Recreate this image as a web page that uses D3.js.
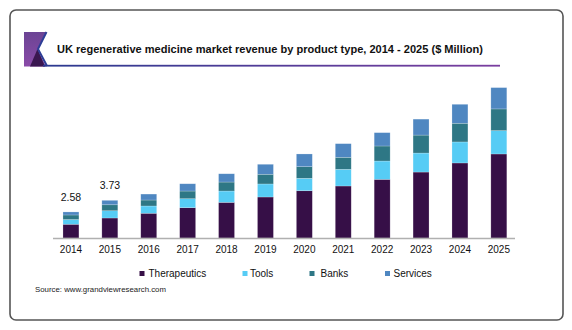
<!DOCTYPE html>
<html>
<head>
<meta charset="utf-8">
<script src="https://cdn.jsdelivr.net/npm/d3@7"></script>
<style>
  html, body { margin: 0; padding: 0; background: #fff; }
  svg { display: block; font-family: "Liberation Sans", Arial, sans-serif; }
</style>
</head>
<body>
<svg id="chart" width="572" height="330"></svg>
<script>
const years = ["2014","2015","2016","2017","2018","2019","2020","2021","2022","2023","2024","2025"];
const therapeutics = [1.36, 1.98, 2.45, 3.00, 3.53, 4.06, 4.68, 5.15, 5.81, 6.53, 7.43, 8.32];
const tools        = [0.47, 0.72, 0.72, 0.89, 1.12, 1.29, 1.23, 1.65, 1.81, 1.88, 2.08, 2.31];
const banks        = [0.45, 0.59, 0.59, 0.76, 0.89, 0.96, 1.15, 1.19, 1.49, 1.78, 1.85, 2.15];
const services     = [0.30, 0.44, 0.59, 0.72, 0.82, 0.99, 1.26, 1.35, 1.32, 1.58, 1.88, 2.11];
const seriesNames  = ["Therapeutics", "Tools", "Banks", "Services"];
const totalLabels  = ["2.58", "3.73"];
const titleText = "UK regenerative medicine market revenue by product type, 2014 - 2025 ($ Million)";
const sourceText = "Source: www.grandviewresearch.com";

const colors = ["#360f47", "#56ccf5", "#2e7785", "#4f87c1"];

const svg = d3.select("#chart");
const defs = svg.append("defs");

// outer frame
svg.append("rect").attr("x", 10).attr("y", 10).attr("width", 553).attr("height", 310)
  .attr("rx", 6).attr("fill", "#fff").attr("stroke", "#555").attr("stroke-width", 1.6);

// header icon + underline
const grad = defs.append("linearGradient").attr("id", "ul").attr("x1", "0%").attr("x2", "100%");
grad.append("stop").attr("offset", "0%").attr("stop-color", "#2b3a90");
grad.append("stop").attr("offset", "100%").attr("stop-color", "#7a3e9f");
const iconGrad = defs.append("linearGradient").attr("id", "ig").attr("x1", "0%").attr("y1", "0%").attr("x2", "0%").attr("y2", "100%");
iconGrad.append("stop").attr("offset", "0%").attr("stop-color", "#6b4494");
iconGrad.append("stop").attr("offset", "100%").attr("stop-color", "#8a4aa8");

svg.append("path").attr("d", "M24,32 L46,32 L37.5,49 L46,66.5 L24,66.5 Z").attr("fill", "url(#ig)");
svg.append("path").attr("d", "M30,66.5 L37.5,49 L45,66.5 Z").attr("fill", "#3a1650");
svg.append("path").attr("d", "M46.5,32 L38,49 L47,66").attr("fill", "none").attr("stroke", "#2d3d96").attr("stroke-width", 2);
svg.append("rect").attr("x", 43).attr("y", 64.8).attr("width", 457).attr("height", 1.8).attr("fill", "url(#ul)");

svg.append("text").attr("x", 57).attr("y", 53)
  .attr("font-size", 11.5).attr("font-weight", "bold").attr("fill", "#111")
  .attr("textLength", 426).attr("lengthAdjust", "spacingAndGlyphs")
  .text(titleText);

// scales
const x = d3.scaleBand().domain(years).range([51.5, 518.3]).paddingInner(0.59).paddingOuter(0.295);
const y = d3.scaleLinear().domain([0, 10]).range([238, 137]);

const table = years.map((yr, i) => ({
  year: yr, Therapeutics: therapeutics[i], Tools: tools[i], Banks: banks[i], Services: services[i]
}));
const stack = d3.stack().keys(seriesNames)(table);

const g = svg.append("g");
g.selectAll("g.layer").data(stack).join("g").attr("class", "layer")
  .attr("fill", (d, i) => colors[i])
  .selectAll("rect").data(d => d).join("rect")
  .attr("x", d => x(d.data.year))
  .attr("width", x.bandwidth())
  .attr("y", d => y(d[1]))
  .attr("height", d => y(d[0]) - y(d[1]))
  .attr("stroke", "rgba(255,255,255,0.35)").attr("stroke-width", 0.6);

// axis
const xAxis = d3.axisBottom(x).tickSize(0).tickPadding(8);
const ax = svg.append("g").attr("transform", "translate(0,238)").call(xAxis);
ax.select(".domain").attr("stroke", "#b0b0b0").attr("stroke-width", 1.5)
  .attr("d", "M53,0.5H515");
ax.selectAll("text").attr("font-size", 10).attr("fill", "#111")
  .attr("font-family", "'Liberation Sans', Arial, sans-serif");

// total labels
totalLabels.forEach((lab, i) => {
  const top = therapeutics[i] + tools[i] + banks[i] + services[i];
  svg.append("text").attr("x", x(years[i]) + x.bandwidth() / 2).attr("y", y(top) - 11)
    .attr("text-anchor", "middle").attr("font-size", 10.5).attr("fill", "#111").text(lab);
});

// legend
const legendX = [139.5, 242.5, 309.5, 385];
const legendGap = [9, 7.5, 11, 8.5];
seriesNames.forEach((name, i) => {
  svg.append("rect").attr("x", legendX[i]).attr("y", 271).attr("width", 5).attr("height", 5).attr("fill", colors[i]);
  svg.append("text").attr("x", legendX[i] + legendGap[i]).attr("y", 277)
    .attr("font-size", 10).attr("fill", "#111").text(name);
});

svg.append("text").attr("x", 35).attr("y", 292).attr("font-size", 7.5).attr("fill", "#222")
  .attr("textLength", 131).attr("lengthAdjust", "spacingAndGlyphs").text(sourceText);
</script>
</body>
</html>
